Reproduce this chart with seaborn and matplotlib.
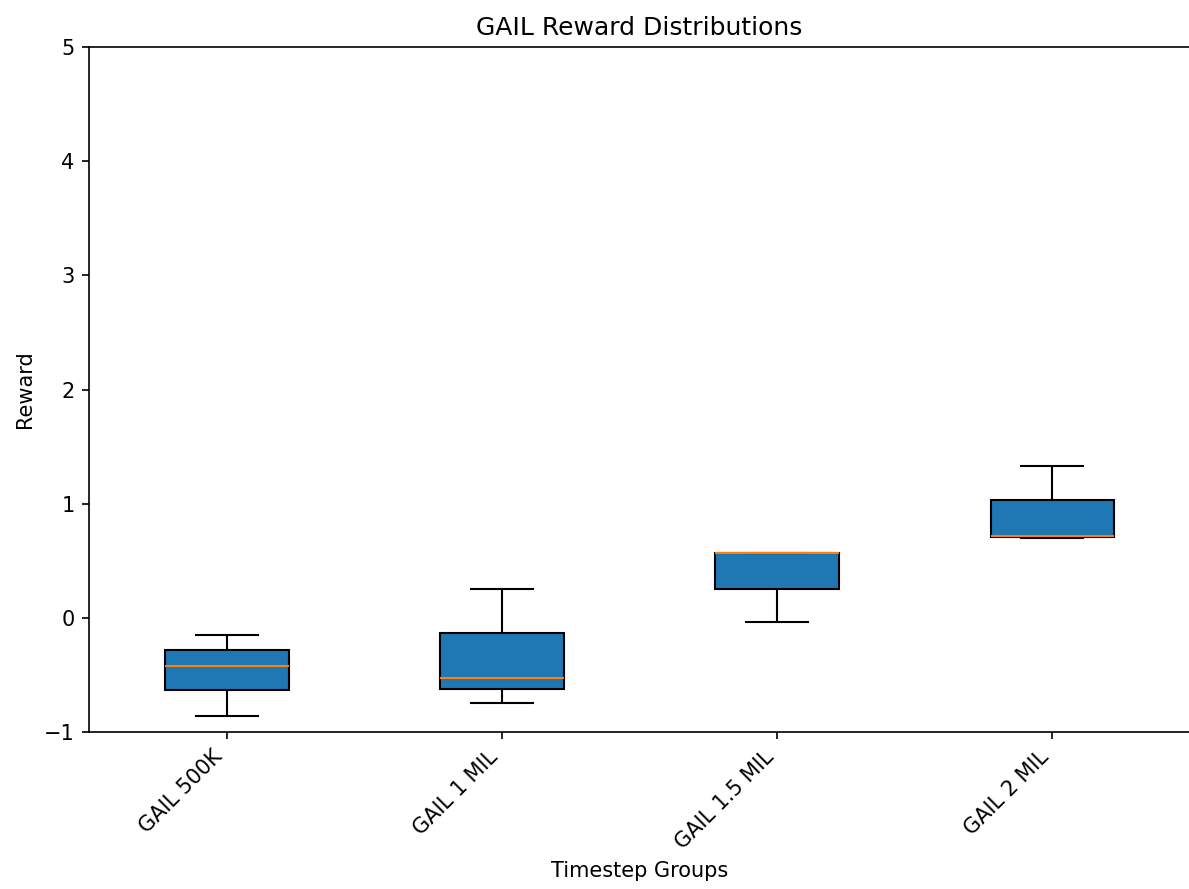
import numpy as np
import pandas as pd
import seaborn as sns
import matplotlib.pyplot as plt

groups = ["GAIL 500K", "GAIL 1 MIL", "GAIL 1.5 MIL", "GAIL 2 MIL"]
# five rewards per group (min, q1, median, q3, max)
r_500k = [-0.86, -0.63, -0.42, -0.28, -0.15]
r_1mil = [-0.75, -0.62, -0.525, -0.13, 0.25]
r_15mil = [-0.035, 0.25, 0.57, 0.57, 0.57]
r_2mil = [0.70, 0.71, 0.72, 1.03, 1.33]

rows = []
for g, vals in zip(groups, [r_500k, r_1mil, r_15mil, r_2mil]):
    for v in vals:
        rows.append({"group": g, "reward": v})
df = pd.DataFrame(rows)

fig = plt.figure(figsize=(1189 / 150, 889 / 150), dpi=150)
ax = fig.add_axes([0.0749, 0.1766, 0.926, 0.7705])
sns.boxplot(data=df, x="group", y="reward", ax=ax, width=0.45,
            color="#1f77b4", saturation=1, linecolor="black", linewidth=1,
            whis=(0, 100), medianprops={"color": "#ff7f0e"})

ax.set_xlim(-0.5, 3.5)
ax.set_ylim(-1, 5)
ax.set_title("GAIL Reward Distributions", fontsize=12)
ax.set_xlabel("Timestep Groups")
ax.set_ylabel("Reward")
plt.setp(ax.get_xticklabels(), rotation=45, ha="right")

fig.savefig("out.png", dpi=150)
